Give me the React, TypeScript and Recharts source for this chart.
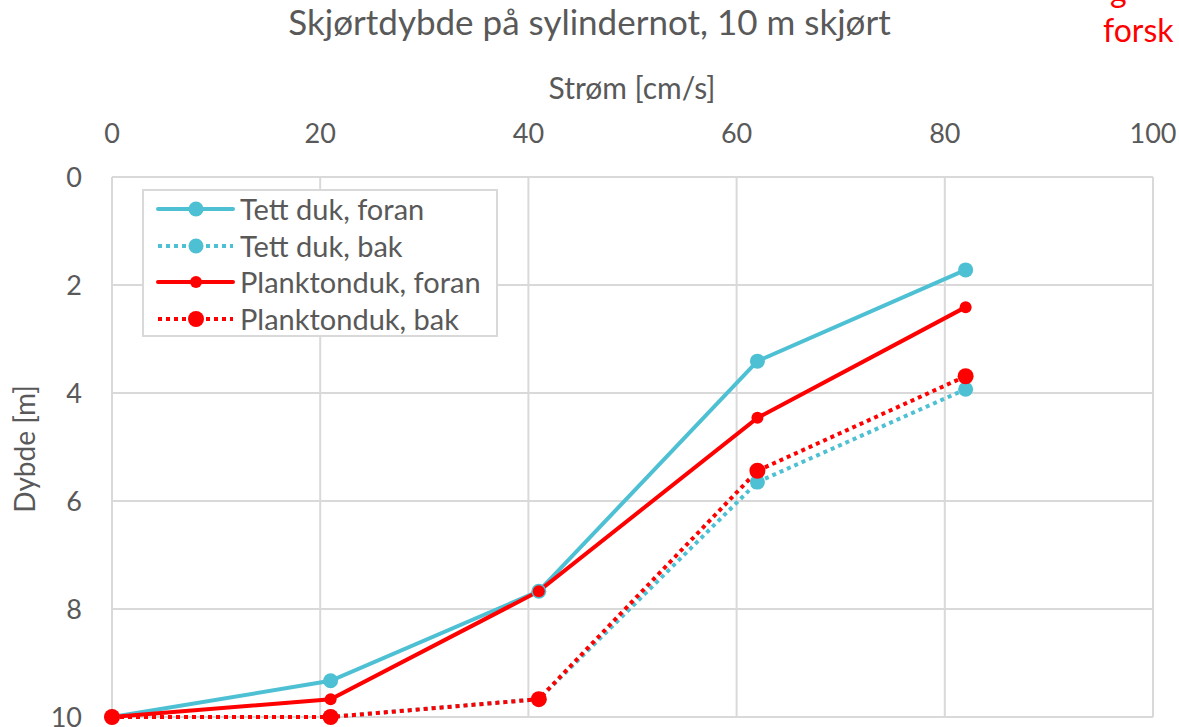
import React from "react";
import {
    CartesianGrid,
    Line,
    LineChart,
    XAxis,
    YAxis
} from "recharts";

// Strøm [cm/s] for each measurement
const stromVerdier = [0, 21, 41, 62, 82];
// Dybde [m] per series
const tettDukForan = [10, 9.33, 7.67, 3.41, 1.72];
const tettDukBak = [10, 10, 9.67, 5.65, 3.93];
const planktondukForan = [10, 9.67, 7.67, 4.46, 2.41];
const planktondukBak = [10, 10, 9.67, 5.44, 3.69];

const xTicks = [0, 20, 40, 60, 80, 100];
const yTicks = [0, 2, 4, 6, 8, 10];

const CYAN = "#4EC0D3";
const RED = "#FF0000";
const GREY = "#595959";
const FONT = "Lato, 'Open Sans', sans-serif";

const chartData = stromVerdier.map((x, i) => ({
    x,
    tettForan: tettDukForan[i],
    tettBak: tettDukBak[i],
    planktonForan: planktondukForan[i],
    planktonBak: planktondukBak[i],
}));

const seriesList = [
    { key: "tettForan", name: "Tett duk, foran", color: CYAN, dotted: false, r: 7.5 },
    { key: "tettBak", name: "Tett duk, bak", color: CYAN, dotted: true, r: 7.5 },
    { key: "planktonForan", name: "Planktonduk, foran", color: RED, dotted: false, r: 6 },
    { key: "planktonBak", name: "Planktonduk, bak", color: RED, dotted: true, r: 8 },
];

// solid filled dot, so the dash pattern of the line does not leak into it
function makeDot(color: string, r: number) {
    return (props: any) => {
        if (props.cx == null || props.cy == null) return <g key={props.index} />;
        return <circle key={props.index} cx={props.cx} cy={props.cy} r={r} fill={color} />;
    };
}

function LegendBox() {
    return (
        <div
            style={{
                position: "absolute",
                left: 142,
                top: 189,
                width: 356,
                height: 148,
                border: "2px solid #d9d9d9",
                background: "#fff",
                boxSizing: "border-box",
                paddingTop: 0,
            }}
        >
            {seriesList.map((s) => (
                <div key={s.key} style={{ display: "flex", alignItems: "center", height: 36.5 }}>
                    <svg width={96} height={20} style={{ marginLeft: 12, flexShrink: 0 }}>
                        <line
                            x1={2}
                            x2={77}
                            y1={10}
                            y2={10}
                            stroke={s.color}
                            strokeWidth={4}
                            strokeDasharray={s.dotted ? "4 4" : undefined}
                            strokeLinecap={s.dotted ? "butt" : "round"}
                        />
                        <circle cx={40} cy={10} r={s.r} fill={s.color} />
                    </svg>
                    <span
                        style={{
                            marginLeft: -12,
                            fontFamily: FONT,
                            fontSize: 29,
                            color: GREY,
                            whiteSpace: "nowrap",
                            lineHeight: "36px",
                        }}
                    >
                        {s.name}
                    </span>
                </div>
            ))}
        </div>
    );
}

export default function App() {
    return (
        <div
            style={{
                position: "absolute",
                top: 0,
                left: 0,
                width: 1179,
                height: 727,
                overflow: "hidden",
                background: "#fff",
                fontFamily: FONT,
            }}
        >
            <LineChart
                width={1179}
                height={760}
                data={chartData}
                margin={{ top: 117, right: 26, bottom: 43, left: 0 }}
            >
                <CartesianGrid stroke="#d9d9d9" strokeWidth={2} />
                <XAxis
                    dataKey="x"
                    type="number"
                    orientation="top"
                    domain={[0, 100]}
                    ticks={xTicks}
                    height={60}
                    axisLine={false}
                    tickLine={false}
                    tickSize={0}
                    tickMargin={34}
                    interval={0}
                    tick={{ fontSize: 27, fill: GREY, fontFamily: FONT }}
                />
                <YAxis
                    type="number"
                    reversed
                    domain={[0, 10]}
                    ticks={yTicks}
                    width={112}
                    axisLine={false}
                    tickLine={false}
                    tickSize={0}
                    tickMargin={30}
                    interval={0}
                    tick={{ fontSize: 27, fill: GREY, fontFamily: FONT }}
                />
                {seriesList.map((s) => (
                    <Line
                        key={s.key}
                        type="linear"
                        dataKey={s.key}
                        name={s.name}
                        stroke={s.color}
                        strokeWidth={4}
                        strokeDasharray={s.dotted ? "4 4" : undefined}
                        dot={makeDot(s.color, s.r)}
                        activeDot={false}
                        isAnimationActive={false}
                    />
                ))}
            </LineChart>
            <LegendBox />
            <div
                style={{
                    position: "absolute",
                    top: 0,
                    left: 0,
                    width: 1179,
                    textAlign: "center",
                    fontSize: 35,
                    color: GREY,
                    whiteSpace: "nowrap",
                }}
            >
                Skjørtdybde på sylindernot, 10 m skjørt
            </div>
            <div style={{ position: "absolute", top: -30, left: 1110, fontSize: 32, color: RED }}>g</div>
            <div style={{ position: "absolute", top: 10, left: 1103, fontSize: 32, color: RED, whiteSpace: "nowrap" }}>
                forsk
            </div>
            <div
                style={{
                    position: "absolute",
                    top: 69,
                    left: 0,
                    width: 1264,
                    textAlign: "center",
                    fontSize: 30,
                    color: GREY,
                }}
            >
                Strøm [cm/s]
            </div>
            <div
                style={{
                    position: "absolute",
                    left: 24,
                    top: 449,
                    transform: "translate(-50%, -50%) rotate(-90deg)",
                    fontSize: 28,
                    color: GREY,
                    whiteSpace: "nowrap",
                }}
            >
                Dybde [m]
            </div>
        </div>
    );
}
